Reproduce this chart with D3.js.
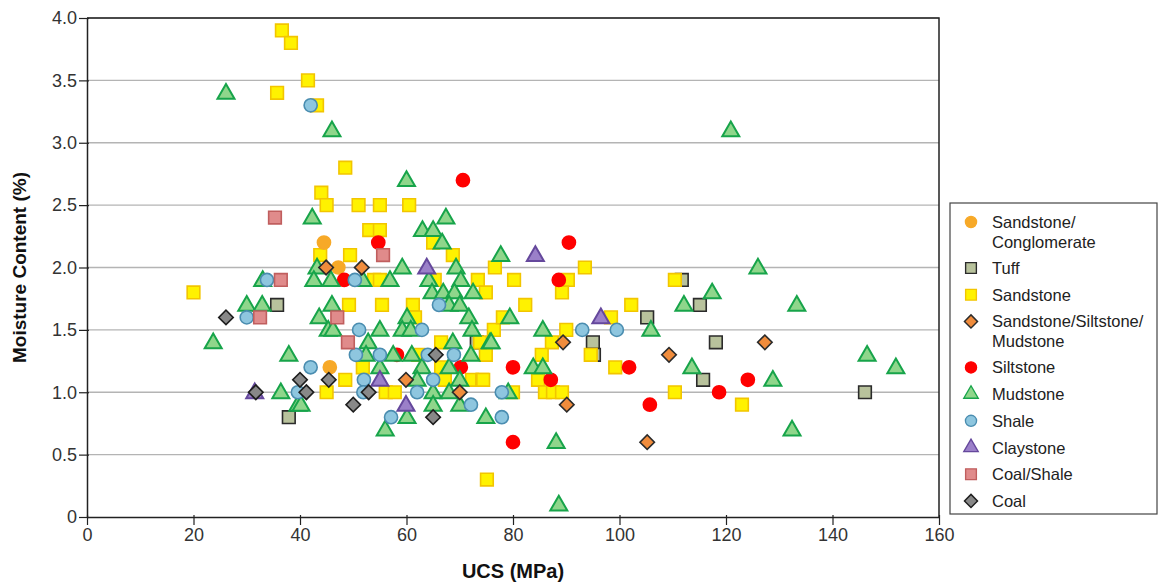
<!DOCTYPE html>
<html>
<head>
<meta charset="utf-8">
<script src="https://cdn.jsdelivr.net/npm/d3@7"></script>
<style>
  body { margin: 0; background: #fff; }
  svg { font-family: "Liberation Sans", Arial, sans-serif; }
</style>
</head>
<body>
<svg id="chart" width="1159" height="583"></svg>
<script>
// [UCS (MPa), moisture content (%)] per rock type
var tuff = [[35.7,1.7],[37.9,0.8],[73.2,1.4],[95,1.4],[95.2,1.3],[105.2,1.6],[111.7,1.9],
    [115.1,1.7],[118.1,1.4],[115.7,1.1],[146.1,1.0]];

var sandstone = [[20,1.8],[36.6,3.9],[38.3,3.8],[35.7,3.4],[41.5,3.5],[43.2,3.3],[48.5,2.8],
    [44,2.6],[45,2.5],[51,2.5],[55,2.5],[60.5,2.5],[53,2.3],[55,2.3],[65,2.2],[68.7,2.1],
    [43.8,2.1],[49.4,2.1],[76.6,2.0],[53.9,1.9],[55,1.9],[65.3,1.9],[73.4,1.9],[74.9,1.8],
    [49.2,1.7],[55.4,1.7],[61.2,1.7],[61.6,1.6],[76.4,1.5],[66.5,1.4],[62.2,1.3],[74.9,1.3],
    [51.8,1.2],[66.5,1.2],[48.5,1.1],[67.2,1.1],[72.3,1.1],[74.2,1.1],[45,1.0],[56.1,1.0],
    [57.8,1.0],[75.1,0.3],[80.2,1.9],[90.3,1.9],[110.4,1.9],[89.2,1.8],[82.3,1.7],[102.2,1.7],
    [78.1,1.6],[98.4,1.6],[90,1.5],[87.3,1.4],[85.4,1.3],[94.6,1.3],[99.2,1.2],[74.4,1.1],
    [84.7,1.1],[80,1.0],[86,1.0],[87.5,1.0],[89.2,1.0],[110.4,1.0],[123,0.9],[93.5,2.0],[73.8,1.4]];

var conglomerate = [[44.5,2.2],[47.2,2.0],[45.6,1.2]];

var siltstone = [[70.6,2.7],[54.7,2.2],[48.3,1.9],[58.2,1.3],[70.2,1.2],[90.5,2.2],[88.6,1.9],
    [80,1.2],[101.8,1.2],[87.1,1.1],[105.7,0.9],[80,0.6],[124.1,1.1],[118.7,1.0]];

var mudstone = [[26.1,3.4],[46,3.1],[60,2.7],[42.3,2.4],[67.4,2.4],[63,2.3],[65,2.3],[66.7,2.2],
    [33,1.9],[30,1.7],[32.9,1.7],[23.7,1.4],[37.9,1.3],[36.4,1.0],[39.6,0.9],[43.2,2.0],[59.2,2.0],
    [69.3,2.0],[42.6,1.9],[45.8,1.9],[51.8,1.9],[56.9,1.9],[64.2,1.9],[70.2,1.9],[64.8,1.8],
    [66.9,1.8],[69,1.8],[72.5,1.8],[46,1.7],[68,1.7],[70,1.7],[43.6,1.6],[60.1,1.6],[71.7,1.6],
    [45.3,1.5],[46.2,1.5],[55,1.5],[59.2,1.5],[60.8,1.5],[72.3,1.5],[52.8,1.4],[68.7,1.4],
    [75.7,1.4],[52.4,1.3],[57.5,1.3],[61,1.3],[72.1,1.3],[55,1.2],[62.9,1.2],[68,1.2],[62,1.1],
    [70,1.1],[65,1.0],[68,1.0],[40.2,0.9],[65,0.9],[70,0.9],[60.1,0.8],[74.9,0.8],[56,0.7],
    [77.7,2.1],[79.4,1.6],[85.6,1.5],[75.9,1.4],[83.8,1.2],[85.6,1.2],[79.1,1.0],[88.1,0.6],
    [88.6,0.1],[120.9,3.1],[126,2.0],[117.4,1.8],[112.1,1.7],[133.3,1.7],[105.9,1.5],[146.5,1.3],
    [151.9,1.2],[113.6,1.2],[128.8,1.1],[132.4,0.7]];

var shale = [[42,3.3],[33.8,1.9],[30,1.6],[50.3,1.9],[51.1,1.5],[62.9,1.5],[66.1,1.7],[50.5,1.3],
    [55,1.3],[64,1.3],[68.9,1.3],[42,1.2],[52,1.1],[65,1.1],[39.6,1.0],[51.9,1.0],[62,1.0],
    [77.9,1.0],[72.1,0.9],[57.1,0.8],[77.9,0.8],[93,1.5],[99.5,1.5]];

var claystone = [[31.5,1.0],[63.8,2.0],[55,1.1],[59.9,0.9],[84.2,2.1],[96.5,1.6]];

var coalShale = [[35.3,2.4],[36.4,1.9],[32.5,1.6],[55.6,2.1],[47,1.6],[49,1.4]];

var sandSiltMud = [[44.9,2.0],[51.6,2.0],[59.9,1.1],[70,1.0],[89.4,1.4],[90.1,0.9],[105.2,0.6],
    [109.3,1.3],[127.3,1.4]];

var coal = [[26.1,1.6],[31.7,1.0],[40,1.1],[41.2,1.0],[45.4,1.1],[50,0.9],[52.9,1.0],[65,0.8],[65.5,1.3]];

var xTicks = [0, 20, 40, 60, 80, 100, 120, 140, 160];
var yTicks = [0, 0.5, 1.0, 1.5, 2.0, 2.5, 3.0, 3.5, 4.0];

// series styles: drawing order (tuff first, coal on top)
var series = [
    {name: ["Tuff"], data: tuff, shape: "square", fill: "#b8c29c", stroke: "#2b2b2b"},
    {name: ["Sandstone"], data: sandstone, shape: "square", fill: "#fff200", stroke: "#f2c500"},
    {name: ["Sandstone/", "Conglomerate"], data: conglomerate, shape: "circle", fill: "#f7a928", stroke: "#f7a928"},
    {name: ["Siltstone"], data: siltstone, shape: "circle", fill: "#ff0000", stroke: "#ff0000"},
    {name: ["Mudstone"], data: mudstone, shape: "triangle", fill: "#8fd68b", stroke: "#17a44a"},
    {name: ["Shale"], data: shale, shape: "circle", fill: "#8ec6df", stroke: "#4a8db0"},
    {name: ["Claystone"], data: claystone, shape: "triangle", fill: "#9b80c9", stroke: "#65489c"},
    {name: ["Coal/Shale"], data: coalShale, shape: "square", fill: "#e08b8b", stroke: "#c05e5e"},
    {name: ["Sandstone/Siltstone/", "Mudstone"], data: sandSiltMud, shape: "diamond", fill: "#f08c3c", stroke: "#2b2b2b"},
    {name: ["Coal"], data: coal, shape: "diamond", fill: "#888888", stroke: "#1e1e1e"}
];

var legendOrder = ["Sandstone/", "Tuff", "Sandstone", "Sandstone/Siltstone/", "Siltstone",
    "Mudstone", "Shale", "Claystone", "Coal/Shale", "Coal"];

var margin = {left: 87, right: 220, top: 18, bottom: 66};
var W = 1159, H = 583;

var svg = d3.select("#chart");

var x = d3.scaleLinear().domain([0, 160]).range([margin.left, W - margin.right]);
var y = d3.scaleLinear().domain([0, 4]).range([H - margin.bottom, margin.top]);

function symbolPath(shape) {
    if (shape == "square") return d3.symbol(d3.symbolSquare, 160)();
    if (shape == "circle") return d3.symbol(d3.symbolCircle, 135)();
    if (shape == "triangle") return d3.symbol(d3.symbolTriangle, 125)();
    return d3.symbol(d3.symbolSquare, 105)();
}

// gridlines
svg.append("g")
    .selectAll("line")
    .data(yTicks.filter(function(d) { return d > 0; }))
    .join("line")
    .attr("x1", x(0)).attr("x2", x(160))
    .attr("y1", function(d) { return y(d); })
    .attr("y2", function(d) { return y(d); })
    .attr("stroke", "#b4b4b4")
    .attr("stroke-width", 1.3);

// frame on top/right
svg.append("path")
    .attr("d", "M" + x(0) + "," + y(4) + "H" + x(160) + "V" + y(0))
    .attr("fill", "none")
    .attr("stroke", "#222")
    .attr("stroke-width", 1.5);

// axes
var xAxis = svg.append("g")
    .attr("transform", "translate(0," + y(0) + ")")
    .call(d3.axisBottom(x).tickValues(xTicks).tickSize(8).tickSizeOuter(0).tickPadding(3));
var yAxis = svg.append("g")
    .attr("transform", "translate(" + x(0) + ",0)")
    .call(d3.axisLeft(y).tickValues(yTicks).tickSize(8).tickSizeOuter(0).tickPadding(2)
        .tickFormat(function(d) { return d === 0 ? "0" : d3.format(".1f")(d); }));

[xAxis, yAxis].forEach(function(g) {
    g.select(".domain").attr("stroke", "#222").attr("stroke-width", 1.5);
    g.selectAll(".tick line").attr("stroke", "#222").attr("stroke-width", 1.2);
    g.selectAll(".tick text")
        .attr("font-size", 18)
        .attr("fill", "#333")
        .attr("font-family", "'Liberation Sans', Arial, sans-serif");
});
// ticks cross the axis slightly on the inside too
xAxis.selectAll(".tick line").attr("y1", -2);
yAxis.selectAll(".tick line").attr("x1", 2).attr("x2", -8);

// axis titles
svg.append("text")
    .attr("x", (x(0) + x(160)) / 2)
    .attr("y", 578)
    .attr("text-anchor", "middle")
    .attr("font-size", 20)
    .attr("font-weight", "bold")
    .attr("fill", "#111")
    .text("UCS (MPa)");

svg.append("text")
    .attr("transform", "translate(26," + ((y(0) + y(4)) / 2) + ") rotate(-90)")
    .attr("text-anchor", "middle")
    .attr("font-size", 19)
    .attr("font-weight", "bold")
    .attr("fill", "#111")
    .text("Moisture Content (%)");

// points
var pts = svg.append("g");
series.forEach(function(s) {
    pts.append("g")
        .selectAll("path")
        .data(s.data)
        .join("path")
        .attr("d", symbolPath(s.shape))
        .attr("transform", function(d) {
            var t = "translate(" + x(d[0]) + "," + y(d[1]) + ")";
            if (s.shape == "triangle") t += " translate(0,1)";
            if (s.shape == "diamond") t += " rotate(45)";
            return t;
        })
        .attr("fill", s.fill)
        .attr("stroke", s.stroke)
        .attr("stroke-width", s.shape == "triangle" ? 2 : 1.6);
});

// legend
var legend = svg.append("g").attr("transform", "translate(950,203)");
legend.append("rect")
    .attr("width", 207).attr("height", 311)
    .attr("fill", "#fff")
    .attr("stroke", "#444")
    .attr("stroke-width", 1.2);

var rowY = 19;
legendOrder.forEach(function(key) {
    var s = series.find(function(d) { return d.name[0] === key; });
    var item = legend.append("g").attr("transform", "translate(0," + rowY + ")");
    item.append("path")
        .attr("d", symbolPath(s.shape))
        .attr("transform", "translate(21,0)" + (s.shape == "diamond" ? " rotate(45) scale(0.9)" : " scale(0.85)"))
        .attr("fill", s.fill)
        .attr("stroke", s.stroke)
        .attr("stroke-width", 1.6);
    var txt = item.append("text")
        .attr("x", 42)
        .attr("y", 6)
        .attr("font-size", 16.5)
        .attr("fill", "#222");
    s.name.forEach(function(line, i) {
        txt.append("tspan").attr("x", 42).attr("dy", i === 0 ? 0 : 19.5).text(line);
    });
    rowY += s.name.length > 1 ? 46 : 26.7;
});
</script>
</body>
</html>
